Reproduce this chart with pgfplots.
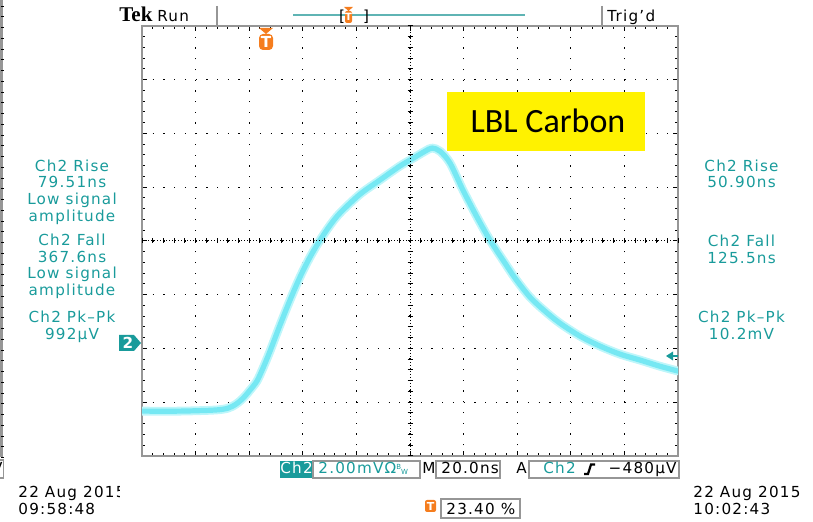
\documentclass[border=0pt]{standalone}
\usepackage{pgfplots}
\usepackage{pgfplotstable}
\pgfplotsset{compat=1.18}
\usepackage{fontspec}
\setmainfont{DejaVu Sans}[LetterSpace=8]
\newfontfamily\calfont{Carlito}
\newfontfamily\tekfont{Liberation Serif}

\definecolor{scopeteal}{RGB}{25,155,155}
\definecolor{traceglow}{RGB}{190,246,250}
\definecolor{tracecore}{RGB}{118,232,243}
\definecolor{tekorange}{RGB}{245,125,30}
\definecolor{framegray}{RGB}{150,150,150}
\definecolor{barteal}{RGB}{95,180,180}

\newcommand\scopefont{\fontsize{7.6}{8}\selectfont}

% Ch2 waveform: time in ns (trigger at 0), amplitude in mV
\pgfplotstableread{
t       v
-46.8   -2.53
-32.6   -2.53
-19.6   -2.49
-14.7   -2.42
-11.7   -2.27
-9.1    -2.05
-6.5    -1.75
-3.9    -1.41
-1.65   -0.93
0.96    -0.30
4.69    0.67
8.43    1.60
12.16   2.46
15.89   3.20
19.62   3.83
23.35   4.38
27.08   4.84
34.54   5.54
42.01   6.07
49.47   6.59
55.07   6.92
58.8    7.14
61.41   7.26
64.39   7.14
68.13   6.70
72.98   5.69
78.2    4.69
83.05   3.83
87.9    3.09
92.38   2.42
97.97   1.71
103.57  1.19
109.17  0.74
116.63  0.26
124.09  -0.11
131.55  -0.41
139.01  -0.63
146.47  -0.86
153.2   -1.04
}\tracedata

\begin{document}
\begin{tikzpicture}
\path[use as bounding box] (0,0) rectangle (406.5pt,-261pt);

\begin{axis}[
  at={(71pt,-228pt)}, anchor=south west,
  scale only axis, width=268pt, height=215pt,
  xmin=-46.8, xmax=153.2, ymin=-4.2, ymax=11.8,
  xtick={-46.8,-26.8,-6.8,13.2,33.2,53.2,73.2,93.2,113.2,133.2,153.2},
  ytick={-4.2,-2.2,-0.2,1.8,3.8,5.8,7.8,9.8,11.8},
  xticklabels={}, yticklabels={},
  minor x tick num=4, minor y tick num=4,
  tick align=inside,
  major tick length=2.4pt, minor tick length=1.6pt,
  tick style={black, line width=0.5pt},
  axis line style={framegray, line width=1.4pt},
  grid=major,
  major grid style={black, line width=0.6pt, dash pattern=on 0.6pt off 4.76pt},
]
\addplot[traceglow, line width=4.4pt, smooth, line join=round, line cap=round] table[x=t, y=v] {\tracedata};
\addplot[tracecore, line width=2.6pt, smooth, line join=round, line cap=round] table[x=t, y=v] {\tracedata};
\end{axis}

\begin{scope}[x=0.5pt, y=-0.5pt, every node/.style={inner sep=0pt, font=\scopefont}]
  % centre graticule lines with fine ticks
  \draw[black, line width=0.5pt, dash pattern=on 0.5pt off 1pt] (142,241) -- (678,241);
  \draw[black, line width=0.5pt, dash pattern=on 0.5pt off 1pt] (410,26) -- (410,456);
  \foreach \i in {0,...,50} \draw[black, line width=0.5pt] ({142+\i*10.72},238.5) -- ++(0,5);
  \foreach \i in {0,...,40} \draw[black, line width=0.5pt] (407.5,{26+\i*10.75}) -- ++(5,0);

  % top status line
  \node[anchor=base west] at (119,21.5) {\tekfont\bfseries\fontsize{10.5}{10.5}\selectfont Tek};
  \node[anchor=base west] at (157,21.5) {Run};
  \draw[framegray, line width=1pt] (217,6) -- (217,26);
  \draw[framegray, line width=1pt] (602,6) -- (602,26);
  \draw[barteal, line width=1.2pt] (293,15) -- (525,15);
  \node[anchor=base] at (342,21.5) {[};
  \node[anchor=base] at (366,21.5) {]};
  \fill[tekorange] (344,7) -- (353,7) -- (348.5,11) -- cycle;
  \fill[tekorange, rounded corners=1pt] (345,11) rectangle (352,23);
  \node[text=white] at (348.5,17) {\fontsize{5}{5}\selectfont\bfseries T};
  \node[anchor=base west] at (607,21.5) {Trig’d};

  % trigger position marker
  \fill[tekorange] (259,28) -- (273,28) -- (266,34) -- cycle;
  \fill[tekorange, rounded corners=2pt] (259,34) rectangle (273,50);
  \node[text=white] at (266,42) {\bfseries T};

  % channel 2 ground marker and trigger level
  \fill[scopeteal] (119,335) -- (134,335) -- (141,343) -- (134,351) -- (119,351) -- cycle;
  \node[text=white] at (128,343) {\bfseries 2};
  \fill[scopeteal] (666,356) -- (673,351.5) -- (673,360.5) -- cycle;
  \draw[scopeteal, line width=1pt] (672,356) -- (678,356);

  % measurements, left panel
  \begin{scope}[every node/.append style={anchor=base, text=scopeteal}]
    \node at (72,171.5) {Ch2 Rise};
    \node at (72,188) {79.51ns};
    \node at (72,205) {Low signal};
    \node at (72,221.7) {amplitude};
    \node at (72,246) {Ch2 Fall};
    \node at (72,262.5) {367.6ns};
    \node at (72,279) {Low signal};
    \node at (72,296) {amplitude};
    \node at (72,322.7) {Ch2 Pk–Pk};
    \node at (72,339.5) {992µV};
    % measurements, right panel
    \node at (741.5,171.5) {Ch2 Rise};
    \node at (741.5,188) {50.90ns};
    \node at (741.5,246.5) {Ch2 Fall};
    \node at (741.5,264) {125.5ns};
    \node at (741.5,323) {Ch2 Pk–Pk};
    \node at (741.5,339.5) {10.2mV};
  \end{scope}

  % left panel edge
  \draw[framegray, line width=1.5pt] (1.5,0) -- (1.5,457);
  \foreach \i in {0,...,42} \draw[black, line width=0.4pt] (1,{6+\i*10.75}) -- ++(2.5,0);
  \begin{scope}
    \clip (0,455) rectangle (4,480);
    \draw[framegray, line width=0.6pt] (-20,460) rectangle (3.5,478);
    \node[anchor=base east] at (3,474) {V};
  \end{scope}

  % bottom readout
  \fill[scopeteal] (280,461) rectangle (313,478);
  \node[anchor=base, text=white] at (296.5,474) {Ch2};
  \draw[framegray, line width=0.6pt] (313,461) rectangle (420,478);
  \node[anchor=base west, text=scopeteal] at (318,474) {2.00mVΩ\raisebox{2pt}{\fontsize{3.5}{3.5}\selectfont B}\raisebox{-0.5pt}{\fontsize{3.5}{3.5}\selectfont W}};
  \node[anchor=base west] at (422,474) {M};
  \draw[framegray, line width=0.6pt] (436,461) rectangle (500,478);
  \node[anchor=base west] at (441,474) {20.0ns};
  \node[anchor=base west] at (516,474) {A};
  \draw[framegray, line width=0.6pt] (529,461) rectangle (679,478);
  \node[anchor=base west, text=scopeteal] at (543,474) {Ch2};
  \draw[black, line width=1.1pt] (584,474) -- (588,474) -- (591,464.5) -- (595,464.5);
  \node[anchor=base east] at (677,474) {−480µV};

  \fill[tekorange, rounded corners=1pt] (425,500) rectangle (436,512);
  \node[text=white] at (430.5,506) {\fontsize{5.5}{5.5}\selectfont\bfseries T};
  \draw[framegray, line width=0.6pt] (441,499) rectangle (520,518);
  \node[anchor=base west] at (446,515) {23.40 \%};

  \node[anchor=base west] at (693,498) {22 Aug 2015};
  \node[anchor=base west] at (693,515) {10:02:43};
  \begin{scope}
    \clip (0,480) rectangle (119,522);
    \node[anchor=base west] at (18,498) {22 Aug 2015};
    \node[anchor=base west] at (18,515) {09:58:48};
  \end{scope}

  % annotation
  \fill[yellow] (447,92) rectangle (645,151);
  \node[anchor=base] at (548,133) {\calfont\fontsize{17}{17}\selectfont LBL Carbon};
\end{scope}
\end{tikzpicture}
\end{document}
